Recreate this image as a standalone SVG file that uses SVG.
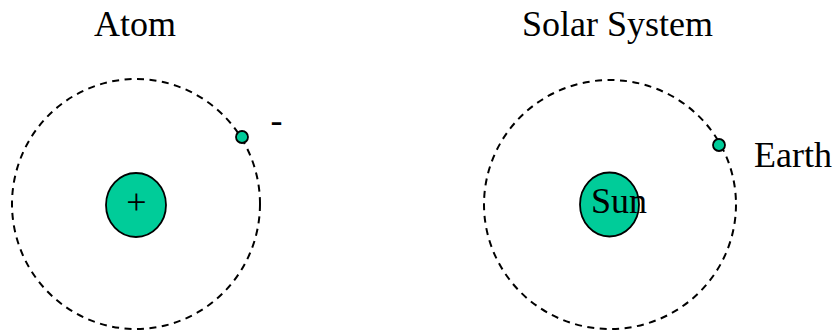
<svg xmlns="http://www.w3.org/2000/svg" width="837" height="333" viewBox="0 0 837 333">
<style>
.t{font-family:"Liberation Serif","Times New Roman",serif;font-size:36px;fill:#000}
.orbit{fill:none;stroke:#000;stroke-width:2;stroke-dasharray:7 5.5}
.body{fill:#00CC99;stroke:#000;stroke-width:1.8}
</style>
<rect width="837" height="333" fill="#fff"/>
<g id="atom">
<text class="t" x="94" y="36">Atom</text>
<ellipse id="atom-orbit" class="orbit" cx="136" cy="204" rx="124" ry="125"/>
<g id="nucleus">
<ellipse class="body" cx="136" cy="205" rx="30" ry="32"/>
<text class="t" x="136.5" y="214" text-anchor="middle">+</text>
</g>
<g id="electron">
<circle class="body" cx="242" cy="137" r="6"/>
<text class="t" x="270.5" y="132">-</text>
</g>
</g>
<g id="solar">
<text class="t" x="522" y="36">Solar System</text>
<ellipse id="earth-orbit" class="orbit" cx="610" cy="204.5" rx="126" ry="124.5"/>
<g id="sun">
<ellipse class="body" cx="609.5" cy="204.5" rx="29.5" ry="32"/>
<text class="t" x="591" y="213">Sun</text>
</g>
<g id="earth">
<circle class="body" cx="719" cy="145" r="6"/>
<text class="t" x="754" y="167">Earth</text>
</g>
</g>
</svg>
